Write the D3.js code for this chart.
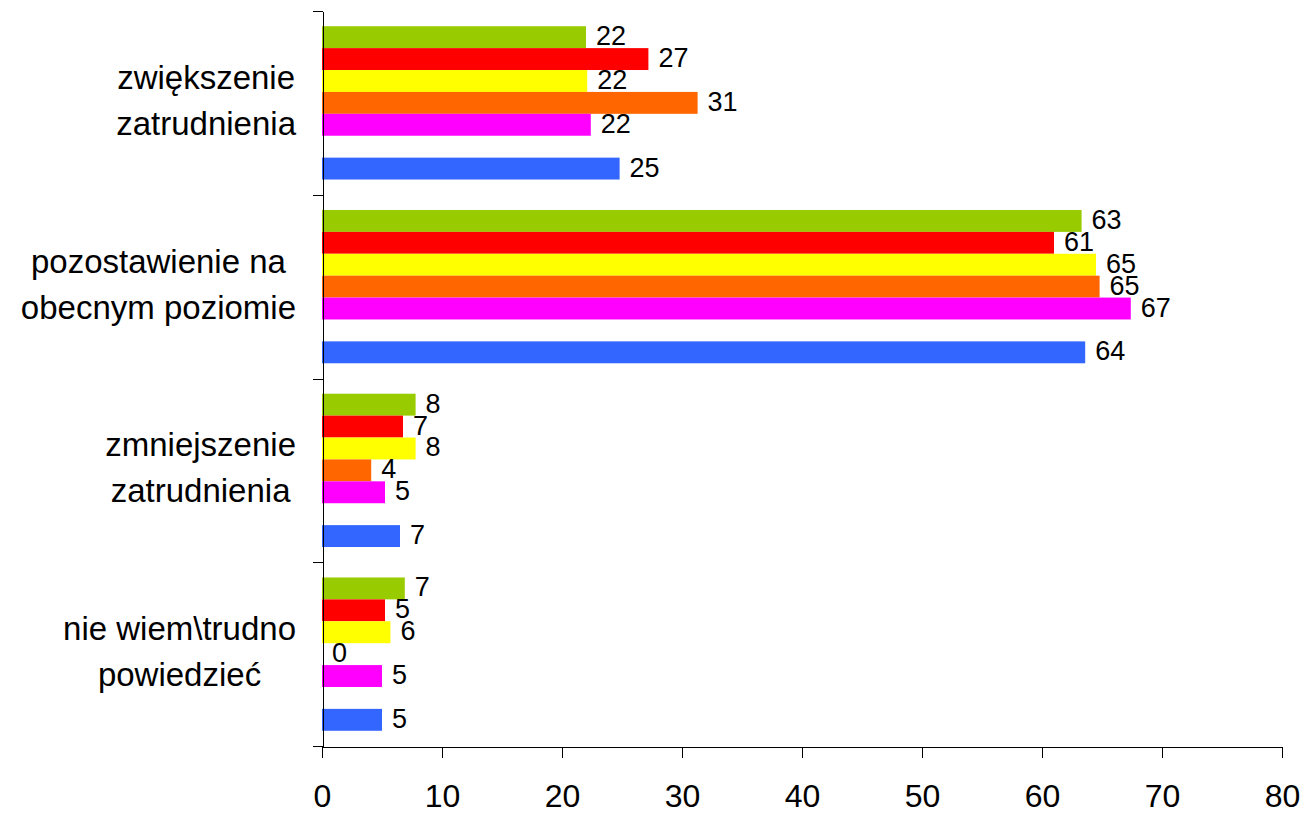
<!DOCTYPE html>
<html>
<head>
<meta charset="utf-8">
<script src="https://cdn.jsdelivr.net/npm/d3@7"></script>
<style>
  html, body { margin: 0; padding: 0; background: #fff; }
  svg { display: block; font-family: "Liberation Sans", Arial, sans-serif; }
  .axis path, .axis line { stroke: #000; shape-rendering: crispEdges; }
  .axis text { fill: #000; }
</style>
</head>
<body>
<svg id="chart" width="1302" height="814"></svg>
<script>
// Grouped horizontal bars, one group per answer, 7 series slots per group
// (the 6th slot is an empty series, which leaves the gap above the blue bar).

const categories = [
  ['zwiększenie', 'zatrudnienia'],
  ['pozostawienie na', 'obecnym poziomie'],
  ['zmniejszenie', 'zatrudnienia'],
  ['nie wiem\\trudno', 'powiedzieć'],
];

const seriesGreen   = [22.0, 63.3, 7.8, 6.9];
const seriesRed     = [27.2, 61.0, 6.75, 5.25];
const seriesYellow  = [22.1, 64.5, 7.8, 5.7];
const seriesOrange  = [31.3, 64.8, 4.1, 0];
const seriesMagenta = [22.4, 67.4, 5.25, 5.0];
const seriesEmpty   = [null, null, null, null];
const seriesBlue    = [24.8, 63.6, 6.5, 5.0];

const xTicks = [0, 10, 20, 30, 40, 50, 60, 70, 80];

const SERIES = [
  { key: 's1', values: seriesGreen, color: '#99CC00' },
  { key: 's2', values: seriesRed, color: '#FF0000' },
  { key: 's3', values: seriesYellow, color: '#FFFF00' },
  { key: 's4', values: seriesOrange, color: '#FF6600' },
  { key: 's5', values: seriesMagenta, color: '#FF00FF' },
  { key: 's6', values: seriesEmpty, color: 'none' },
  { key: 's7', values: seriesBlue, color: '#3366FF' },
];

const svg = d3.select('#chart');
const plot = { left: 322, right: 1282, top: 11, bottom: 746 };

const x = d3.scaleLinear().domain([0, 80]).range([plot.left, plot.right]);

const groupIdx = d3.range(categories.length);
const yGroup = d3.scaleBand().domain(groupIdx).range([plot.top, plot.bottom]).padding(0);
const ySeries = d3
  .scaleBand()
  .domain(SERIES.map((s) => s.key))
  .range([0, yGroup.bandwidth()])
  .paddingInner(0)
  .paddingOuter(0.695);

// bars
const groups = svg
  .selectAll('g.group')
  .data(groupIdx)
  .join('g')
  .attr('class', 'group')
  .attr('transform', (i) => `translate(0,${yGroup(i)})`);

groups.each(function (i) {
  const g = d3.select(this);
  const pts = SERIES.filter((s) => s.values[i] != null).map((s) => ({ s, v: s.values[i] }));

  g.selectAll('rect')
    .data(pts)
    .join('rect')
    .attr('x', x(0))
    .attr('y', (d) => ySeries(d.s.key))
    .attr('width', (d) => x(d.v) - x(0))
    .attr('height', ySeries.bandwidth())
    .attr('fill', (d) => d.s.color);

  g.selectAll('text.val')
    .data(pts)
    .join('text')
    .attr('class', 'val')
    .attr('x', (d) => x(d.v) + 10)
    .attr('y', (d) => ySeries(d.s.key) + ySeries.bandwidth() / 2 - 1)
    .attr('dominant-baseline', 'central')
    .attr('font-size', 27)
    .attr('fill', '#000')
    .text((d) => Math.round(d.v));
});

// category axis: ticks at group boundaries, pointing left
const yEdge = d3.scaleLinear().domain([0, categories.length]).range([plot.top, plot.bottom]);
svg.append('g')
  .attr('class', 'axis')
  .attr('transform', `translate(${plot.left + 0.5},0)`)
  .call(d3.axisLeft(yEdge).tickValues(d3.range(categories.length + 1)).tickFormat('').tickSize(10).tickSizeOuter(0));

// value axis
svg.append('g')
  .attr('class', 'axis')
  .attr('transform', `translate(0,${plot.bottom + 0.5})`)
  .call(d3.axisBottom(x).tickValues(xTicks).tickSize(11).tickSizeOuter(0).tickPadding(27))
  .call((g) => g.selectAll('text').attr('font-size', 32).attr('font-family', '"Liberation Sans", Arial, sans-serif'));

// category labels: two centred lines, block right-aligned against the axis
const labelRight = 296;
const lineGap = 46;
categories.forEach((lines, i) => {
  const cy = yGroup(i) + yGroup.bandwidth() / 2;
  const t = svg.append('g');
  const nodes = lines.map((ln, j) =>
    t.append('text')
      .attr('y', cy - 14 + j * lineGap)
      .attr('font-size', 33)
      .attr('fill', '#000')
      .attr('text-anchor', 'middle')
      .text(ln)
  );
  const maxW = d3.max(nodes, (n) => n.node().getComputedTextLength());
  nodes.forEach((n) => n.attr('x', labelRight - maxW / 2));
});
</script>
</body>
</html>
